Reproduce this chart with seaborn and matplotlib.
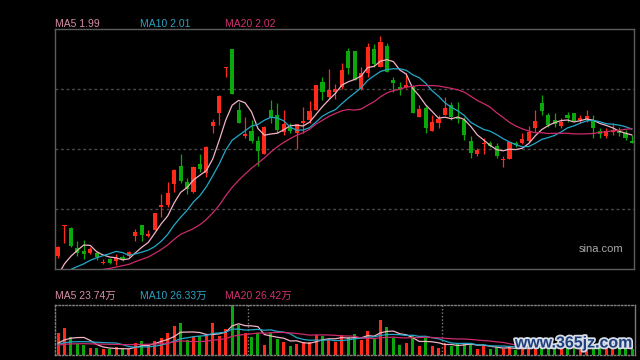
import numpy as np
import pandas as pd
import matplotlib
matplotlib.use("Agg")
import matplotlib.pyplot as plt
import matplotlib.patheffects as pe
import seaborn as sns

# ---------------- data ----------------
open_ = [1.268, 1.448, 1.436, 1.316, 1.298, 1.286, 1.286, 1.226, 1.250, 1.238,
         1.262, 1.268, 1.388, 1.454, 1.388, 1.424, 1.562, 1.574, 1.700, 1.808,
         1.712, 1.652, 1.820, 1.766, 2.048, 2.126, 2.399, 2.510, 2.144, 1.988,
         2.018, 1.958, 1.880, 2.144, 2.114, 2.012, 2.042, 2.006, 2.066, 2.084,
         2.144, 2.312, 2.222, 2.252, 2.282, 2.498, 2.498, 2.270, 2.366, 2.510,
         2.402, 2.528, 2.324, 2.282, 2.282, 2.282, 2.102, 2.156, 2.018, 2.066,
         2.114, 2.174, 2.102, 2.084, 1.958, 1.880, 1.940, 1.946, 1.928, 1.844,
         1.850, 1.946, 1.946, 1.958, 2.036, 2.186, 2.114, 2.084, 2.048, 2.114,
         2.126, 2.084, 2.090, 2.084, 2.018, 1.988, 2.012, 2.024, 2.006, 1.958]
high = [1.328, 1.454, 1.442, 1.358, 1.364, 1.322, 1.298, 1.250, 1.256, 1.280,
        1.274, 1.298, 1.430, 1.454, 1.424, 1.526, 1.640, 1.712, 1.790, 1.880,
        1.736, 1.808, 1.880, 1.928, 2.090, 2.234, 2.402, 2.510, 2.192, 2.102,
        2.084, 1.988, 2.048, 2.204, 2.186, 2.144, 2.066, 2.060, 2.162, 2.198,
        2.294, 2.342, 2.390, 2.300, 2.426, 2.516, 2.498, 2.402, 2.546, 2.540,
        2.588, 2.546, 2.342, 2.312, 2.366, 2.294, 2.174, 2.174, 2.114, 2.114,
        2.222, 2.192, 2.192, 2.102, 1.988, 1.916, 1.976, 1.958, 1.946, 1.868,
        1.952, 1.958, 2.006, 2.048, 2.144, 2.234, 2.126, 2.126, 2.096, 2.132,
        2.126, 2.114, 2.144, 2.114, 2.036, 2.036, 2.066, 2.042, 2.024, 1.994]
low = [1.256, 1.346, 1.322, 1.268, 1.250, 1.280, 1.244, 1.223, 1.220, 1.214,
       1.238, 1.262, 1.358, 1.358, 1.382, 1.424, 1.502, 1.562, 1.652, 1.706,
       1.640, 1.646, 1.772, 1.742, 2.006, 2.054, 2.342, 2.240, 2.066, 1.976,
       1.946, 1.808, 1.880, 2.066, 2.006, 1.994, 2.006, 1.910, 2.006, 2.066,
       2.144, 2.204, 2.210, 2.210, 2.270, 2.360, 2.324, 2.264, 2.342, 2.402,
       2.402, 2.372, 2.252, 2.234, 2.276, 2.126, 2.102, 2.006, 2.018, 2.036,
       2.114, 2.084, 2.066, 1.964, 1.856, 1.868, 1.880, 1.922, 1.856, 1.802,
       1.850, 1.922, 1.940, 1.952, 2.012, 2.114, 2.042, 2.042, 2.036, 2.072,
       2.078, 2.066, 2.072, 1.976, 1.976, 1.976, 1.994, 1.988, 1.964, 1.946]
close = [1.322, 1.454, 1.328, 1.286, 1.280, 1.310, 1.262, 1.232, 1.226, 1.256,
         1.250, 1.292, 1.412, 1.394, 1.400, 1.526, 1.574, 1.646, 1.784, 1.718,
         1.670, 1.802, 1.790, 1.922, 2.072, 2.228, 2.402, 2.240, 2.066, 2.000,
         1.958, 1.898, 2.042, 2.102, 2.024, 2.060, 2.018, 2.060, 2.078, 2.138,
         2.294, 2.252, 2.264, 2.270, 2.384, 2.396, 2.324, 2.366, 2.522, 2.420,
         2.552, 2.372, 2.306, 2.270, 2.294, 2.126, 2.150, 2.036, 2.072, 2.090,
         2.156, 2.102, 2.090, 1.994, 1.886, 1.904, 1.946, 1.928, 1.868, 1.850,
         1.952, 1.934, 1.970, 2.012, 2.078, 2.138, 2.054, 2.060, 2.072, 2.096,
         2.078, 2.096, 2.108, 2.036, 2.000, 2.018, 2.024, 2.006, 1.976, 1.946]
# volume in 万 (10k shares)
volume = [73.4, 90.4, 59.8, 37.4, 34.0, 22.4, 22.4, 19.0, 19.0, 25.8,
          20.4, 20.4, 41.8, 46.2, 34.0, 48.6, 58.8, 72.4, 96.2, 106.4,
          52.0, 59.8, 63.2, 63.2, 106.4, 63.2, 88.4, 167.6, 99.6, 74.8,
          59.8, 74.8, 35.0, 74.8, 54.4, 42.8, 29.2, 37.4, 42.8, 45.2,
          68.0, 62.2, 54.4, 42.8, 65.6, 59.8, 69.0, 51.0, 80.2, 56.4,
          116.6, 92.8, 56.4, 35.0, 39.4, 68.0, 29.2, 56.4, 29.2, 22.4,
          39.4, 29.2, 39.4, 39.4, 37.4, 20.4, 29.2, 20.4, 25.8, 20.4,
          25.8, 17.0, 20.4, 27.2, 34.0, 42.2, 30.6, 23.8, 20.4, 23.8,
          30.6, 27.2, 27.2, 30.6, 28.9, 25.5, 22.1, 23.8, 25.5, 21.8]
# sessions just before the visible window (only feed the moving averages)
prior_close = [1.08, 1.09, 1.08, 1.10, 1.09, 1.10, 1.11, 1.10, 1.09, 1.10,
               1.11, 1.10, 1.11, 1.12, 1.10, 1.11, 1.10, 1.11, 1.12]
prior_volume = [28, 35, 30, 26, 32, 38, 29, 31, 27, 33,
                30, 28, 34, 31, 29, 36, 30, 27, 32]
month_breaks = [29.5, 59.5]

price_labels = ["MA5 1.99", "MA10 2.01", "MA20 2.02"]
vol_labels = ["MA5 23.74万", "MA10 26.33万", "MA20 26.42万"]
ma_windows = [5, 10, 20]

# ---------------- styling ----------------
sns.set_theme(style="dark")
plt.rcParams['font.family'] = ['Liberation Sans', 'Noto Sans CJK SC', 'DejaVu Sans']

BG = "#000000"
UP = "#ff2a1a"
DOWN = "#0aa80a"
line_cols = ["#f2b3c5", "#22a9c9", "#cc2a6c"]
text_cols = ["#d98ea6", "#2aa2c2", "#d2306e"]
BORDER = "#5c5c5c"

n = len(close)
idx = np.arange(n)
o = np.array(open_); c = np.array(close); h = np.array(high); l = np.array(low)
cols = [UP if cc >= oo else DOWN for oo, cc in zip(o, c)]

full_c = pd.Series(prior_close + close)
full_v = pd.Series(prior_volume + volume)
np_ = len(prior_close)

fig = plt.figure(figsize=(6.4, 3.6), dpi=100, facecolor=BG)
ax = fig.add_axes([55/640, 1-269/360, 579/640, 240/360])
axv = fig.add_axes([55/640, 5/360, 579.5/640, 50/360])

for a in (ax, axv):
    a.set_facecolor(BG)
    a.set_xticks([]); a.set_yticks([])
    a.set_xlabel(""); a.set_ylabel("")
    a.grid(False)

# ---- price panel ----
ax.set_xlim(-0.47, n - 1 + 0.31)
ax.set_ylim(1.19, 2.63)
for gy in [1.55, 1.91, 2.27]:
    ax.axhline(gy, color="#4a4a4a", lw=1.0, ls=(0, (2, 2)), zorder=0)

ax.vlines(idx, l, h, colors=cols, lw=0.9, zorder=2)
body_bottom = np.minimum(o, c)
body_h = np.maximum(np.abs(c - o), 0.004)
ax.bar(idx, body_h, bottom=body_bottom, width=0.64, color=cols, linewidth=0, zorder=3)

for w, col in zip(ma_windows, line_cols):
    ma = full_c.rolling(w).mean().iloc[np_:].to_numpy()
    sns.lineplot(x=idx, y=ma, color=col, lw=0.9, ax=ax, zorder=4)

for s in ax.spines.values():
    s.set_color(BORDER); s.set_linewidth(1.0); s.set_visible(True)

# ---- volume panel ----
axv.set_xlim(-0.47, n - 1 + 0.38)
axv.set_ylim(0, max(volume) * 1.003)
axv.bar(idx, volume, width=0.46, color=cols, linewidth=0, zorder=2)
for w, col in zip(ma_windows, line_cols):
    mav = full_v.rolling(w).mean().iloc[np_:].to_numpy()
    sns.lineplot(x=idx, y=mav, color=col, lw=0.9, ax=axv, zorder=3)
for mb in month_breaks:
    axv.axvline(mb, color="#808080", lw=1.0, ls=(0, (1, 1.5)), zorder=1)
for side in ["top", "bottom", "left"]:
    axv.spines[side].set_color("#808080")
    axv.spines[side].set_linestyle((0, (1, 1.5)))
    axv.spines[side].set_linewidth(1.0)
axv.spines["right"].set_color("#7a7a7a")
axv.spines["right"].set_linewidth(1.0)

# ---- texts ----
for lab, col, xp in zip(price_labels, text_cols, [55, 140, 225]):
    fig.text(xp/640, 1-24/360, lab, color=col, fontsize=7.5, va="center", ha="left")
for lab, col, xp in zip(vol_labels, text_cols, [55, 140, 225]):
    fig.text(xp/640, 1-296/360, lab, color=col, fontsize=7.5, va="center", ha="left")

ax.text(623/640, 1-249/360, "sina.com", transform=fig.transFigure, color="#a8a8a8",
        fontsize=8, ha="right", va="center")

fig.text(574/640, 1-343/360, "www.365jz.com", color="#1d3f7c", fontsize=11.5,
         fontweight="bold", ha="center", va="center", family="Liberation Sans",
         path_effects=[pe.withStroke(linewidth=2.5, foreground="#d8dde6")], zorder=10)

fig.savefig("out.png", dpi=100, facecolor=BG)
